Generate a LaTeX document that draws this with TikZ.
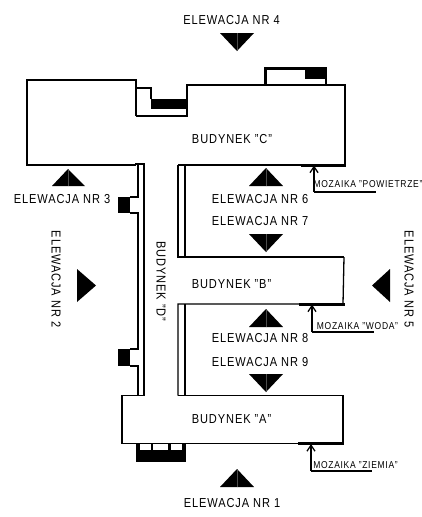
\documentclass[tikz,border=0pt]{standalone}
\usepackage{fontspec}
\setmainfont[FakeStretch=0.85,LetterSpace=7]{Liberation Sans}
\usetikzlibrary{arrows.meta}
\tikzset{
	lbl/.style={inner sep=0pt,font=\fontsize{13}{15}\selectfont},
	mozlbl/.style={inner sep=0pt,font=\fontsize{10}{11}\selectfont},
	wall/.style={line width=1.3pt,color=black},
	heavy/.style={line width=3pt,color=black},
	arrowline/.style={line width=1.3pt,->,>={Straight Barb[length=6pt,width=8pt,line width=1.3pt]}},
	elev/.style={fill=black},
	elevaxis/.style={line width=0.3pt,color=black!70},
}
\begin{document}
\begin{tikzpicture}[x=1pt,y=-1pt]
	\useasboundingbox (0,0) rectangle (422,517);
	\fill[white] (0,0) rectangle (422,517);

	% budynek C
	\draw[wall](136,116)--(136,80)--(27,80)--(27,165)--(136,165);
	\draw[wall](136,88)--(151,88)--(151,99);
	\draw[wall](136,116)--(187,116)--(187,85)--(345,85)--(345,165)--(178,165);
	\fill(151,99) rectangle (187,109);
	\draw[heavy](265,85)--(265,68)--(327,68);
	\draw[wall](326,68)--(326,85);
	\fill(305,67) rectangle (327,79);
	\draw[heavy](301,165)--(346,165);

	% budynek D
	\draw[wall](135,164)--(144,164)--(144,395.5);
	\draw[wall](138,164)--(138,197)--(130,197);
	\draw[wall](130,213)--(138,213)--(138,349)--(130,349);
	\draw[wall](130,366)--(138,366)--(138,395.5);
	\fill(118,197) rectangle (130,213);
	\fill(118,349) rectangle (130,366);

	% budynek B
	\draw[wall](185,165)--(185,257);
	\draw[wall](178,165)--(178,257)--(344,257);
	\draw[wall](344,257)--(343,304)--(178,304)--(178,395.5);
	\draw[wall](185,304)--(185,395.5);
	\draw[heavy](299,304)--(345,304);

	% budynek A
	\draw[wall](144,395.5)--(122,395.5)--(122,443.5)--(343,443.5)--(343,395.5)--(178,395.5);
	\draw[heavy](298,443.5)--(344,443.5);
	\fill(136,450) rectangle (186,462);
	\fill(136,444) rectangle (140,450);
	\fill(151,444) rectangle (153,450);
	\fill(168,444) rectangle (171,450);
	\fill(182,444) rectangle (186,450);

	% elewacje
	\fill[elev](220,33)--(254,33)--(237,51)--cycle;
	\fill[elev](52,186)--(85,186)--(68,169)--cycle;
	\fill[elev](249,186)--(283,186)--(266,168)--cycle;
	\fill[elev](249,234)--(283,234)--(266,252)--cycle;
	\fill[elev](249,327)--(283,327)--(266,309)--cycle;
	\fill[elev](249,374)--(283,374)--(266,392)--cycle;
	\fill[elev](220,487)--(254,487)--(237,469)--cycle;
	\fill[elev](77,269)--(77,302)--(96,285.5)--cycle;
	\fill[elev](390,269)--(390,302)--(372,285.5)--cycle;
	\draw[elevaxis](237,33)--(237,51);
	\draw[elevaxis](68,186)--(68,169);
	\draw[elevaxis](266,186)--(266,168);
	\draw[elevaxis](266,234)--(266,252);
	\draw[elevaxis](266,327)--(266,309);
	\draw[elevaxis](266,374)--(266,392);
	\draw[elevaxis](237,487)--(237,469);

	\node[lbl] (el4) at (231.5,20){ELEWACJA NR 4};
	\node[lbl] (el3) at (62,199){ELEWACJA NR 3};
	\node[lbl] (el6) at (260,199){ELEWACJA NR 6};
	\node[lbl] (el7) at (260,221){ELEWACJA NR 7};
	\node[lbl] (el8) at (260,338){ELEWACJA NR 8};
	\node[lbl] (el9) at (260,362){ELEWACJA NR 9};
	\node[lbl] (el1) at (232,503){ELEWACJA NR 1};
	\node[lbl,rotate=-90] (el2) at (56,279){ELEWACJA NR 2};
	\node[lbl,rotate=-90] (el5) at (409,279){ELEWACJA NR 5};

	\node[lbl] (budc) at (232,139){BUDYNEK "C"};
	\node[lbl] (budb) at (231.5,284){BUDYNEK "B"};
	\node[lbl] (buda) at (231.5,419){BUDYNEK "A"};
	\node[lbl,rotate=-90] (budd) at (161,281.5){BUDYNEK "D"};

	% mozaiki
	\coordinate (mozc) at (314,165.5);
	\coordinate (mozb) at (312,304.5);
	\coordinate (moza) at (311,444);
	\draw[wall](314,192)--(376,192);
	\draw[arrowline](314,192)--(mozc);
	\draw[wall](312,332)--(374,332);
	\draw[arrowline](312,332)--(mozb);
	\draw[wall](311,471)--(372,471);
	\draw[arrowline](311,471)--(moza);
	\node[mozlbl] (lblc) at (368,184){MOZAIKA "POWIETRZE"};
	\node[mozlbl] (lblb) at (357.5,326){MOZAIKA "WODA"};
	\node[mozlbl] (lbla) at (355.5,465){MOZAIKA "ZIEMIA"};
\end{tikzpicture}
\end{document}
